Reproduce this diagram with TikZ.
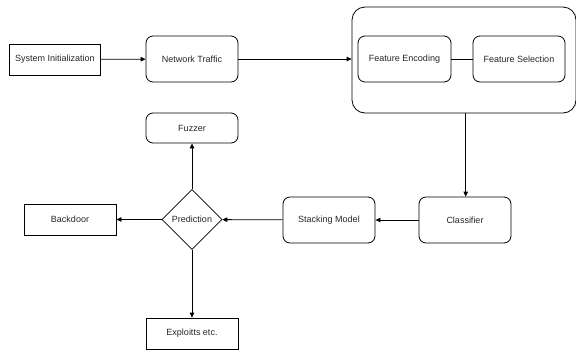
\documentclass[tikz,border=0pt]{standalone}
\usepackage{fontspec}
\setmainfont{Liberation Sans}
\usetikzlibrary{shapes.geometric,arrows.meta}
\begin{document}
\begin{tikzpicture}[x=1pt,y=-1pt,
  every node/.style={font=\fontsize{9}{11}\selectfont, text=black!85},
  sqbox/.style={draw, line width=0.8pt, minimum width=92pt, minimum height=31pt, inner sep=0pt},
  rbox/.style={draw, line width=0.8pt, rounded corners=7pt, minimum width=92pt, minimum height=46pt, inner sep=0pt},
  link/.style={draw, line width=0.8pt, -{Triangle[length=5pt,width=4.5pt]}},
  plain/.style={draw, line width=0.8pt}]
\useasboundingbox (0,0) rectangle (576,354);
% container
\node[draw, line width=0.8pt, rounded corners=13pt, minimum width=224pt, minimum height=106pt, inner sep=0pt] (cont) at (464,60) {};
\node[sqbox, minimum width=91pt] (sys) at (55,59.5) {System Initialization};
\node[rbox] (net) at (192,59) {Network Traffic};
\node[rbox, minimum width=93pt] (enc) at (404.5,59) {Feature Encoding};
\node[rbox] (sel) at (519,59) {Feature Selection};
\node[rbox] (cls) at (465,220) {Classifier};
\node[rbox] (stk) at (329,220) {Stacking Model};
\node[draw, line width=0.8pt, diamond, aspect=1, minimum width=60pt, minimum height=60pt, inner sep=0pt] (pred) at (192,219.5) {Prediction};
\node[sqbox] (back) at (70,219.5) {Backdoor};
\node[rbox, minimum height=30pt] (fuz) at (192,128) {Fuzzer};
\node[sqbox] (exp) at (192,333.5) {Exploitts etc.};
\coordinate (ctop) at (465.7,113);
\draw[link] (sys) -- (net);
\draw[link] (net) -- (cont.west |- net);
\draw[plain] (enc) -- (sel);
\draw[link] (cont.south -| ctop) -- (cls.north -| ctop);
\draw[link] (cls) -- (stk);
\draw[link] (stk) -- (pred);
\draw[link] (pred) -- (back);
\draw[link] (pred) -- (fuz);
\draw[link] (pred) -- (exp);
\end{tikzpicture}
\end{document}
